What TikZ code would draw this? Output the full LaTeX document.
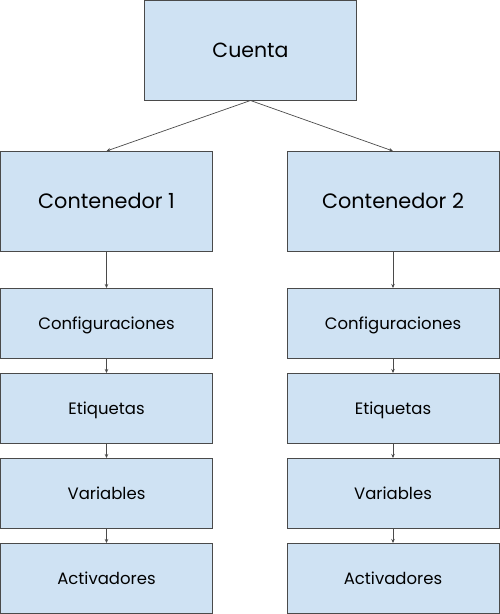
\documentclass[tikz,border=0pt]{standalone}
\usepackage{fontspec}
\setmainfont{Poppins}
\usetikzlibrary{positioning,arrows.meta}
\definecolor{boxfill}{HTML}{CFE2F3}
\definecolor{boxline}{HTML}{4A4A4A}

\begin{document}
\begin{tikzpicture}[
   x=1pt,y=-1pt,
   >={Stealth[length=4pt,width=3.5pt]},
   box/.style={draw=boxline,fill=boxfill,line width=.8pt,inner sep=0pt,outer sep=0pt,
     minimum width=212pt,text depth=0pt},
   bigbox/.style={box,minimum height=100pt,font=\fontsize{20.8}{25}\selectfont},
   smallbox/.style={box,minimum height=70pt,font=\fontsize{16.5}{20}\selectfont},
   link/.style={->,draw=boxline,line width=.7pt}
 ]
  \useasboundingbox (0,0) rectangle (500,614);

  % The account and its two containers.
  \node[bigbox,font=\fontsize{20.5}{24}\selectfont] (cuenta) at (250.5,50.5) {Cuenta};
  \node[bigbox] (cont1) at (106.5,201) {Contenedor 1};
  \node[bigbox] (cont2) at (393,201) {Contenedor 2};
  \draw[link] (cuenta.south) -- (cont1.north);
  \draw[link] (cuenta.south) -- (cont2.north);

  % Left column.
  \node[smallbox,below=37pt of cont1] (conf1) {Configuraciones};
  \node[smallbox,below=15pt of conf1] (etiq1) {Etiquetas};
  \node[smallbox,below=15pt of etiq1] (vari1) {Variables};
  \node[smallbox,below=15pt of vari1] (acti1) {Activadores};
  \draw[link] (cont1) -- (conf1);
  \draw[link] (conf1) -- (etiq1);
  \draw[link] (etiq1) -- (vari1);
  \draw[link] (vari1) -- (acti1);

  % Right column.
  \node[smallbox,below=37pt of cont2] (conf2) {Configuraciones};
  \node[smallbox,below=15pt of conf2] (etiq2) {Etiquetas};
  \node[smallbox,below=15pt of etiq2] (vari2) {Variables};
  \node[smallbox,below=15pt of vari2] (acti2) {Activadores};
  \draw[link] (cont2) -- (conf2);
  \draw[link] (conf2) -- (etiq2);
  \draw[link] (etiq2) -- (vari2);
  \draw[link] (vari2) -- (acti2);
 \end{tikzpicture}
\end{document}
